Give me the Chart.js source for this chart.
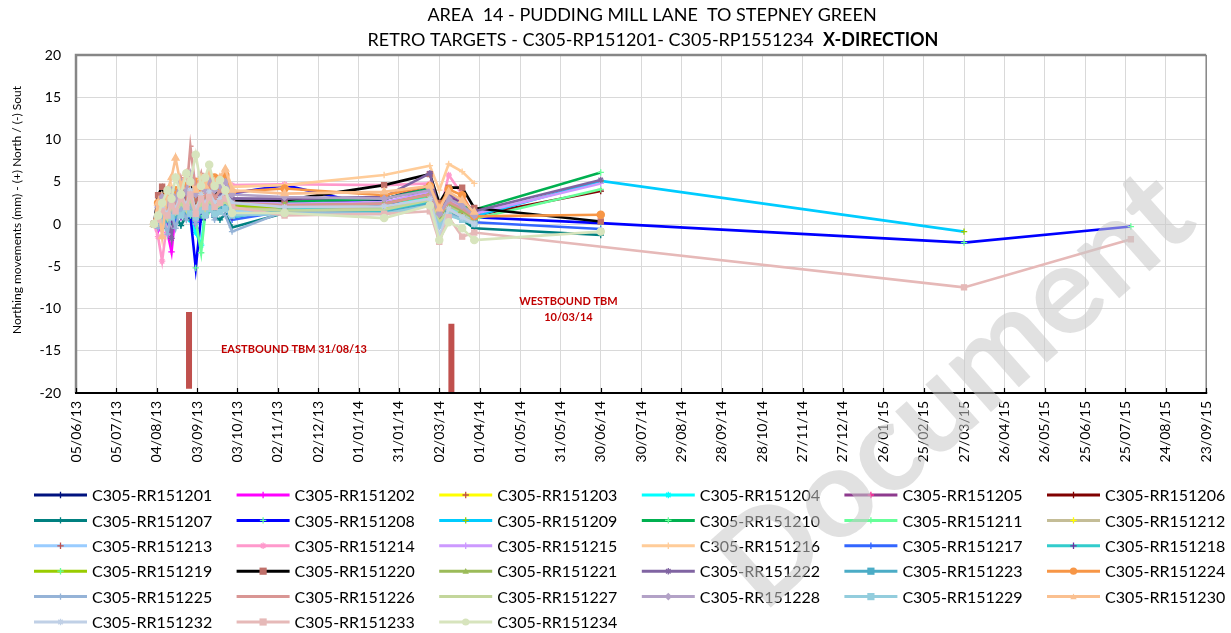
<!DOCTYPE html>
<html><head><meta charset="utf-8">
<script src="https://cdn.jsdelivr.net/npm/chart.js@4/dist/chart.umd.min.js"></script>
<style>html,body{margin:0;padding:0;background:#fff;}canvas{display:block;}</style>
</head><body>
<canvas id="c" width="1231" height="633"></canvas>
<script>
// ---------- text ----------
const titleLine1 = 'AREA  14 - PUDDING MILL LANE  TO STEPNEY GREEN';
const titleLine2a = 'RETRO TARGETS - C305-RP151201- C305-RP1551234  ';
const titleLine2b = 'X-DIRECTION';
const yTitle = 'Northing movements (mm) - (+) North / (-) Sout';
const watermarkText = 'Document';

// ---------- axes ----------
const xStart = '05/06/13';
const xEnd = '23/09/15';
const xStepDays = 30;
const yMin = -20, yMax = 20, yStep = 5;

// ---------- categories (survey dates) ----------
const dates = ['02/08/13','05/08/13','08/08/13','12/08/13','15/08/13','18/08/13','22/08/13','26/08/13','29/08/13',
  '02/09/13','06/09/13','09/09/13','12/09/13','16/09/13','20/09/13','24/09/13','29/09/13',
  '07/11/13','20/01/14','23/02/14','02/03/14','09/03/14','19/03/14','28/03/14','30/06/14','27/03/15','29/07/15'];

const seriesNames = ['C305-RR151201','C305-RR151202','C305-RR151203','C305-RR151204','C305-RR151205','C305-RR151206',
  'C305-RR151207','C305-RR151208','C305-RR151209','C305-RR151210','C305-RR151211','C305-RR151212',
  'C305-RR151213','C305-RR151214','C305-RR151215','C305-RR151216','C305-RR151217','C305-RR151218',
  'C305-RR151219','C305-RR151220','C305-RR151221','C305-RR151222','C305-RR151223','C305-RR151224',
  'C305-RR151225','C305-RR151226','C305-RR151227','C305-RR151228','C305-RR151229','C305-RR151230',
  'C305-RR151232','C305-RR151233','C305-RR151234'];

const seriesColors = ['#00127F','#FF00FF','#FFFF00','#00FFFF','#8E3A8E','#800000',
  '#008080','#0000FF','#00CCFF','#00B050','#66FF99','#C4BD97',
  '#99CCFF','#FF99CC','#CC99FF','#FFCC99','#3366FF','#33CCCC',
  '#99CC00','#000000','#9BBB59','#8064A2','#4BACC6','#F79646',
  '#95B3D7','#D99694','#C3D69B','#B3A2C7','#93CDDD','#FAC090',
  '#C0D0E6','#E6B9B8','#D7E4BD'];

const markerColors = ['#00127F','#FF00FF','#C0504D','#00FFFF','#FF3399','#800000',
  '#008080','#66FF99','#99CC00','#66FF99','#66FF99','#FFFF00',
  '#C0504D','#FF99CC','#CC99FF','#FFCC99','#3366FF','#7030A0',
  '#66FF99','#C0706A','#9BBB59','#8064A2','#4BACC6','#F79646',
  '#95B3D7','#D99694','#C3D69B','#B3A2C7','#93CDDD','#FAC090',
  '#C0D0E6','#E6B9B8','#D7E4BD'];

const markerStyles = ['cross','cross','cross','star','cross','cross',
  'cross','cross','cross','cross','cross','cross',
  'cross','star','cross','cross','cross','cross',
  'cross','rect','triangle','star','rect','circle',
  'cross','dash','dash','rectRot','rect','triangle',
  'star','rect','circle'];

// ---------- series values (mm), aligned with dates ----------
const s201 = [0,0.8,1.5,0.5,2.2,1.0,2.8,1.5,3.0,0.5,2.5,1.8,3.2,2.0,2.8,3.5,2.0,2.5,2.9,4.6,1.2,3.0,2.0,0.6,null,null,null];
const s202 = [0,-0.8,0.5,-1.0,-3.3,1.5,0.8,2.2,1.0,-0.5,2.0,1.2,2.5,1.0,2.0,2.8,1.5,2.2,2.5,3.6,0.2,2.3,1.5,0.8,null,null,null];
const s203 = [0,1.0,0.5,2.0,1.2,2.5,1.5,3.0,2.0,0.8,3.0,1.5,2.8,1.8,2.4,3.0,2.5,2.0,1.8,3.2,0.8,2.0,1.2,0.4,null,null,null];
const s204 = [0,0.5,-0.5,1.5,0.8,2.0,1.0,2.5,0.5,-1.0,-2.5,1.5,2.0,1.2,2.5,2.0,1.0,2.0,2.2,3.3,0.6,2.5,1.0,0.3,null,null,null];
const s205 = [0,1.5,2.5,1.0,3.0,2.0,3.5,2.5,4.0,1.5,3.5,2.5,4.0,3.0,3.5,4.0,3.0,2.8,3.0,4.2,1.5,3.2,2.5,1.0,null,null,null];
const s206 = [0,0.5,1.5,0.8,2.0,1.0,2.2,1.3,2.5,0.8,2.0,1.5,2.5,1.8,2.2,3.0,2.2,2.0,2.0,2.8,0.5,2.0,1.5,1.0,3.9,null,null];
const s207 = [0,0.3,-0.5,0.8,0.2,1.0,-0.2,1.0,0.5,1.5,0.5,1.0,2.0,0.8,0.5,1.2,-0.4,1.3,1.5,2.5,0.0,1.2,0.5,-0.5,-1.3,null,null];
const s208 = [0,0.5,1.0,0.3,1.5,0.5,2.0,0.8,1.0,-5.2,1.0,2.0,1.5,2.5,2.0,3.0,3.6,4.6,1.9,4.4,1.0,2.2,1.5,0.8,0.1,-2.2,-0.3];
const s209 = [0,0.8,0.2,1.5,0.5,2.2,1.2,2.0,1.5,0.5,1.8,1.0,2.2,1.5,1.6,2.2,1.6,2.0,1.5,2.8,0.3,1.6,1.0,0.9,5.1,-0.9,null];
const s210 = [0,1.0,2.0,1.2,2.5,1.8,3.0,2.0,3.5,1.0,2.5,2.0,3.0,2.5,2.8,3.2,2.8,2.6,3.0,4.2,1.5,3.0,2.2,1.7,6.1,null,null];
const s211 = [0,0.5,1.2,0.2,1.8,0.8,2.2,1.0,2.5,0.5,-3.4,1.2,2.0,1.5,1.8,2.5,1.2,1.6,1.8,3.0,0.4,2.0,1.2,0.6,4.1,null,null];
const s212 = [0,1.2,0.5,2.0,1.0,2.8,1.5,3.2,2.0,0.8,2.5,1.8,3.0,2.0,2.2,2.8,2.0,1.8,2.0,3.0,0.6,2.2,1.4,0.5,null,null,null];
const s213 = [0,0.2,1.5,0.8,2.2,1.2,2.5,1.0,3.0,1.2,2.2,1.5,2.8,1.5,2.0,2.5,1.5,1.5,1.6,2.8,0.2,1.8,1.0,0.3,null,null,null];
const s214 = [0,-1.5,-4.4,0.5,1.0,2.5,1.2,3.0,2.0,0.5,2.8,1.8,3.5,2.5,3.0,3.8,4.6,4.7,4.6,4.8,1.0,5.8,3.5,1.0,null,null,null];
const s215 = [0,1.0,2.2,1.5,3.0,2.0,3.8,2.5,4.2,1.8,3.2,2.5,3.8,2.8,3.0,3.5,2.8,2.4,2.6,3.8,1.0,2.8,2.0,1.2,4.8,null,null];
const s216 = [0,2.0,3.5,2.5,4.5,3.0,5.0,3.5,5.5,2.5,4.5,3.5,5.5,4.0,5.0,6.4,4.4,4.6,5.8,6.9,4.0,7.1,6.2,4.8,null,null,null];
const s217 = [0,0.3,1.0,0.2,1.5,0.5,1.8,0.8,2.0,0.2,1.5,0.8,2.0,1.0,1.5,2.0,0.5,1.5,1.6,2.6,0.2,1.5,0.8,0.2,-0.6,null,null];
const s218 = [0,0.8,0.2,1.5,0.5,1.8,0.8,2.2,1.2,0.5,1.5,0.8,2.0,1.0,1.6,2.0,0.8,1.8,1.5,2.6,0.0,1.4,0.8,0.2,null,null,null];
const s219 = [0,1.2,0.5,2.2,1.0,2.5,1.5,2.8,1.8,0.8,2.5,1.5,2.8,2.0,2.4,2.8,2.2,2.0,2.4,3.5,1.0,2.4,1.8,0.8,null,null,null];
const s220 = [0,3.4,4.4,2.5,3.8,2.2,4.5,3.0,5.0,2.8,5.3,3.5,4.5,3.2,4.8,3.8,2.8,2.8,4.6,5.9,2.5,4.3,4.3,1.9,0.3,null,null];
const s221 = [0,0.8,1.8,0.8,2.5,1.5,3.0,2.0,3.2,1.0,2.8,1.8,3.2,2.2,2.6,3.2,2.4,2.2,2.4,3.4,0.8,2.4,1.6,0.6,null,null,null];
const s222 = [0,1.5,2.5,1.0,-1.7,3.0,2.0,4.0,2.5,4.5,3.0,4.0,3.2,4.5,3.5,4.2,3.0,3.0,3.2,6.0,1.5,3.5,2.8,1.5,5.2,null,null];
const s223 = [0,0.5,1.2,0.5,1.8,1.0,2.2,1.2,2.5,0.8,2.0,1.2,2.4,1.5,1.8,2.2,1.2,1.4,1.3,2.4,0.0,1.3,0.7,0.2,null,null,null];
const s224 = [0,2.5,1.5,3.5,2.0,4.0,2.5,4.5,3.0,5.0,3.5,4.8,4.0,5.5,4.2,5.8,3.8,4.2,3.4,4.5,2.0,4.1,3.4,0.9,1.1,null,null];
const s225 = [0,-0.5,1.0,-1.2,1.5,-0.5,2.0,0.5,2.5,0.0,2.0,1.0,2.2,0.5,1.5,1.0,-0.9,1.5,1.2,2.2,-0.3,1.2,0.5,0.0,null,null,null];
const s226 = [0,1.0,2.5,1.5,3.5,2.5,5.5,3.5,9.2,4.0,6.0,3.5,5.0,3.0,4.0,3.5,2.5,2.2,2.4,3.5,1.0,2.6,1.8,0.8,null,null,null];
const s227 = [0,0.5,1.5,0.5,2.0,1.2,2.5,1.5,3.0,1.0,2.5,1.5,2.8,1.8,2.2,2.6,1.8,1.6,1.7,2.8,0.2,1.6,1.0,0.1,null,null,null];
const s228 = [0,2.0,3.2,2.5,4.0,3.0,5.0,3.8,6.0,3.5,5.2,4.0,5.5,4.0,4.5,5.0,3.5,3.2,3.0,4.0,1.2,3.0,2.2,1.0,null,null,null];
const s229 = [0,0.8,0.2,1.2,0.8,1.5,1.0,2.0,1.2,0.8,1.6,1.0,1.8,1.2,1.4,1.8,1.0,1.2,1.2,2.2,-0.2,1.0,0.5,0.0,null,null,null];
const s230 = [0,2.5,-1.5,4.0,5.5,7.8,4.5,6.0,5.0,4.0,5.5,4.5,6.0,5.0,5.5,6.5,4.0,3.6,3.8,4.5,1.8,3.8,2.8,1.4,null,null,null];
const s232 = [0,1.0,2.0,1.2,2.8,1.8,3.5,2.2,4.0,1.5,3.5,2.2,3.8,2.5,3.0,3.8,2.5,2.0,2.1,3.0,-1.5,1.8,0.8,0.0,null,null,null];
const s233 = [0,0.5,1.5,1.0,2.2,1.5,3.0,2.0,3.5,1.2,3.0,2.0,3.2,2.0,2.5,3.0,2.0,1.0,1.2,1.5,-2.1,0.8,-1.5,-1.0,null,-7.5,-1.8];
const s234 = [0,1.0,2.5,4.0,3.0,5.5,3.5,6.0,5.0,8.2,4.5,5.5,7.0,4.5,5.2,4.0,1.3,1.3,0.7,2.2,-1.9,0.2,-0.5,-1.9,-0.9,null,null];

const seriesValues = [s201,s202,s203,s204,s205,s206,s207,s208,s209,s210,s211,s212,s213,s214,s215,s216,s217,s218,
  s219,s220,s221,s222,s223,s224,s225,s226,s227,s228,s229,s230,s232,s233,s234];

// ---------- TBM markers ----------
const tbmDates = ['28/08/13','11/03/14'];
const tbmLow = [-19.5,-20];
const tbmHigh = [-10.4,-11.8];
const tbmLabelText = [['EASTBOUND TBM 31/08/13'], ['WESTBOUND TBM','10/03/14']];
const tbmLabelDates = ['14/11/13','06/06/14'];
const tbmLabelY = [-14.9,-9.2];

// ---------- helpers ----------
function parseD(s){const [d,m,y]=s.split('/').map(Number);return Date.UTC(2000+y,m-1,d);}
const base = parseD(xStart);
function dayOf(s){return Math.round((parseD(s)-base)/864e5);}
function fmtDay(v){const dt=new Date(base+v*864e5);const p=n=>String(n).padStart(2,'0');
  return p(dt.getUTCDate())+'/'+p(dt.getUTCMonth()+1)+'/'+p(dt.getUTCFullYear()%100);}

const FONT='Lato';

const datasets = seriesValues.map((vals,i)=>{
  const st = markerStyles[i];
  let r = 3.2;
  if(st==='rect'||st==='circle') r=3.6;
  if(st==='triangle') r=4;
  return {
    label: seriesNames[i],
    data: dates.map((d,j)=>vals[j]===null?null:{x:dayOf(d),y:vals[j]}).filter(Boolean),
    borderColor: seriesColors[i],
    backgroundColor: markerColors[i],
    borderWidth: 2.6,
    pointStyle: st,
    pointRadius: r,
    pointBorderColor: markerColors[i],
    pointBackgroundColor: markerColors[i],
    pointBorderWidth: 1.3,
    tension: 0,
    fill: false,
    order: 200 - i
  };
});
tbmDates.forEach((d,k)=>{
  datasets.push({label:'TBM', isTbm:true,
    data:[{x:dayOf(d),y:tbmLow[k]},{x:dayOf(d),y:tbmHigh[k]}],
    borderColor:'#C0504D', borderWidth:6, pointRadius:0, borderCapStyle:'butt', order:0});
});

function drawMarker(ctx, st, x, y, r, color){
  ctx.save();
  ctx.strokeStyle=color; ctx.fillStyle=color; ctx.lineWidth=1.3;
  ctx.beginPath();
  if(st==='cross'||st==='star'){ctx.moveTo(x-r,y);ctx.lineTo(x+r,y);ctx.moveTo(x,y-r);ctx.lineTo(x,y+r);}
  if(st==='star'){const q=r*0.707;ctx.moveTo(x-q,y-q);ctx.lineTo(x+q,y+q);ctx.moveTo(x-q,y+q);ctx.lineTo(x+q,y-q);}
  if(st==='dash'){ctx.moveTo(x-r,y);ctx.lineTo(x+r,y);}
  ctx.stroke();
  if(st==='rect'){ctx.fillRect(x-r,y-r,2*r,2*r);}
  if(st==='circle'){ctx.beginPath();ctx.arc(x,y,r,0,Math.PI*2);ctx.fill();}
  if(st==='rectRot'){ctx.beginPath();ctx.moveTo(x,y-r*1.2);ctx.lineTo(x+r*1.2,y);ctx.lineTo(x,y+r*1.2);ctx.lineTo(x-r*1.2,y);ctx.closePath();ctx.fill();}
  if(st==='triangle'){ctx.beginPath();ctx.moveTo(x,y-r);ctx.lineTo(x+r,y+r*0.8);ctx.lineTo(x-r,y+r*0.8);ctx.closePath();ctx.fill();}
  ctx.restore();
}

const customDraw = {
  id:'customDraw',
  afterDraw(chart){
    const ctx=chart.ctx, a=chart.chartArea, xs=chart.scales.x, ys=chart.scales.y;
    ctx.save();
    // frame
    ctx.strokeStyle='#868686'; ctx.lineWidth=2.5;
    ctx.beginPath(); ctx.moveTo(a.left,a.bottom); ctx.lineTo(a.left,a.top); ctx.lineTo(a.right,a.top); ctx.stroke();
    ctx.lineWidth=1.5; ctx.beginPath(); ctx.moveTo(a.right,a.top); ctx.lineTo(a.right,a.bottom); ctx.stroke();
    ctx.strokeStyle='#000'; ctx.lineWidth=2;
    ctx.beginPath(); ctx.moveTo(a.left-1,a.bottom); ctx.lineTo(a.right+1,a.bottom); ctx.stroke();
    ctx.lineWidth=1.2;
    xs.ticks.forEach(t=>{const px=Math.round(xs.getPixelForValue(t.value))+0.5;
      ctx.beginPath(); ctx.moveTo(px,a.bottom); ctx.lineTo(px,a.bottom-5); ctx.stroke();});

    // title
    ctx.fillStyle='#000'; ctx.textBaseline='middle'; ctx.textAlign='center';
    ctx.font='18px '+FONT;
    ctx.fillText(titleLine1, 652, 15);
    ctx.font='18px '+FONT; const w1=ctx.measureText(titleLine2a).width;
    ctx.font='bold 18px '+FONT; const w2=ctx.measureText(titleLine2b).width;
    const sx=653-(w1+w2)/2; ctx.textAlign='left';
    ctx.font='18px '+FONT; ctx.fillText(titleLine2a, sx, 40);
    ctx.font='bold 18px '+FONT; ctx.fillText(titleLine2b, sx+w1, 40);

    // y title
    ctx.save(); ctx.translate(17,210); ctx.rotate(-Math.PI/2);
    ctx.textAlign='center'; ctx.font='12px '+FONT; ctx.fillText(yTitle,0,0); ctx.restore();

    // TBM labels
    ctx.fillStyle='#C00000'; ctx.font='bold 11px '+FONT; ctx.textAlign='center';
    tbmLabelText.forEach((lines,k)=>{
      const px=xs.getPixelForValue(dayOf(tbmLabelDates[k])), py=ys.getPixelForValue(tbmLabelY[k]);
      lines.forEach((ln,j)=>ctx.fillText(ln,px,py+j*16));
    });

    // legend
    ctx.textAlign='left'; ctx.font='16px '+FONT; ctx.fillStyle='#000';
    seriesNames.forEach((name,i)=>{
      const col=i%6, row=Math.floor(i/6);
      const x=34+col*202.6, y=495+row*25.4;
      ctx.strokeStyle=seriesColors[i]; ctx.lineWidth=3;
      ctx.beginPath(); ctx.moveTo(x,y); ctx.lineTo(x+53,y); ctx.stroke();
      const st=markerStyles[i];
      drawMarker(ctx, st, x+26.5, y, (st==='rect'||st==='circle')?3.6:3.2, markerColors[i]);
      ctx.fillStyle='#000'; ctx.fillText(name, x+58, y+1);
    });

    // watermark
    ctx.save(); ctx.translate(955,390); ctx.rotate(-41.6*Math.PI/180);
    ctx.font='bold 125px '+FONT; ctx.textAlign='center'; ctx.textBaseline='middle';
    ctx.fillStyle='rgba(200,200,200,0.55)'; ctx.fillText(watermarkText,0,0); ctx.restore();
    ctx.restore();
  }
};

new Chart(document.getElementById('c'), {
  type:'line',
  data:{datasets},
  options:{
    responsive:false, animation:false, devicePixelRatio:1,
    layout:{padding:{top:55,right:16,bottom:165,left:0}},
    plugins:{legend:{display:false}, title:{display:false}, tooltip:{enabled:false}},
    scales:{
      x:{type:'linear', min:0, max:dayOf(xEnd),
        ticks:{stepSize:xStepDays, maxTicksLimit:100, autoSkip:false, maxRotation:90, minRotation:90, padding:8,
          font:{family:FONT,size:14}, color:'#000', callback:v=>fmtDay(v)},
        grid:{color:'#D9D9D9', lineWidth:1, drawTicks:false}, border:{display:false},
        afterFit:s=>{s.height=75;}},
      y:{type:'linear', min:yMin, max:yMax,
        ticks:{stepSize:yStep, padding:15, font:{family:FONT,size:14}, color:'#000'},
        grid:{color:'#D9D9D9', lineWidth:1, drawTicks:false}, border:{display:false},
        afterFit:s=>{s.width=76;}}
    }
  },
  plugins:[customDraw]
});
</script>
</body></html>
